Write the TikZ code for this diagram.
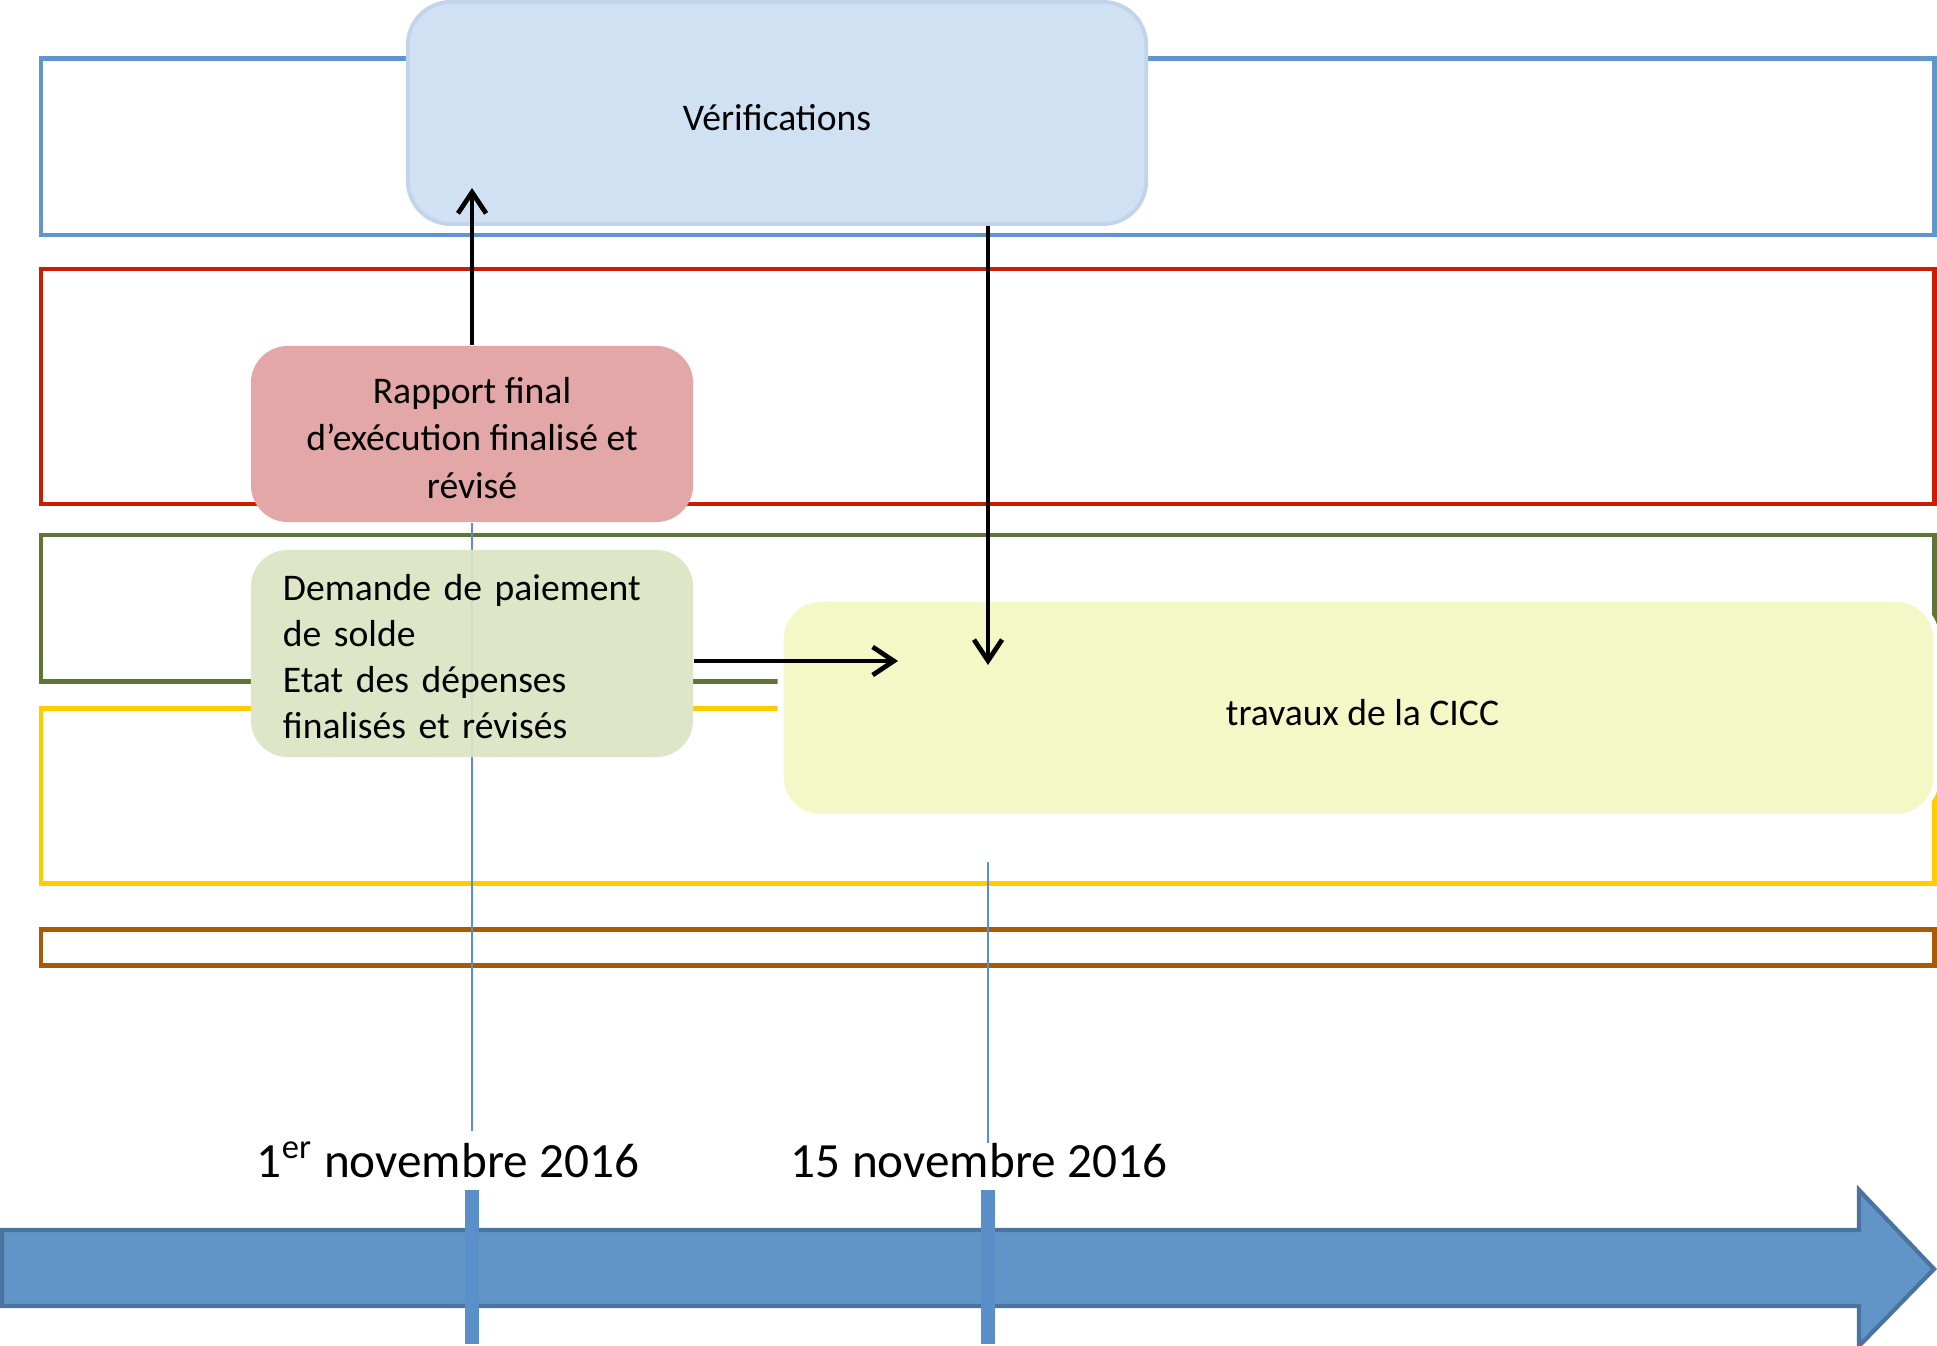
\documentclass[tikz,border=0pt]{standalone}
\usepackage{fontspec}
\setmainfont{Carlito}
\usetikzlibrary{arrows.meta,calc}
\definecolor{bandblue}{RGB}{96,150,202}
\definecolor{bandred}{RGB}{202,30,0}
\definecolor{bandgreen}{RGB}{95,117,53}
\definecolor{bandyellow}{RGB}{255,204,0}
\definecolor{bandbrown}{RGB}{168,90,5}
\definecolor{verfill}{RGB}{208,225,243}
\definecolor{verline}{RGB}{193,212,234}
\definecolor{rapfill}{RGB}{226,167,166}
\definecolor{demfill}{RGB}{221,231,200}
\definecolor{travfill}{RGB}{243,248,198}
\definecolor{tlfill}{RGB}{97,149,200}
\definecolor{tlline}{RGB}{74,115,160}
\definecolor{tickcol}{RGB}{91,143,202}
\tikzset{
  band/.style={line width=1.42pt},
  boxtext/.style={font=\fontsize{10.7}{13.6}\selectfont, text=black, inner sep=0pt},
  flowarrow/.style={line width=1.35pt, -{Straight Barb[length=6pt,width=8pt,line width=1.35pt]}},
  thinline/.style={draw=tickcol, line width=0.6pt},
  tickmark/.style={draw=tickcol, line width=4.2pt},
  datelabel/.style={font=\fontsize{14}{16}\selectfont, anchor=base, inner sep=0pt}
}
\begin{document}
\begin{tikzpicture}[x=0.01cm,y=-0.01cm]
\useasboundingbox (0,0) rectangle (1937,1346);

% bands
\draw[band, bandblue]   (41,59)  rectangle (1934,235);
\draw[band, bandred]    (41,269) rectangle (1934,504);
\draw[band, bandgreen]  (41,535) rectangle (1934,681);
\draw[band, bandyellow] (41,708) rectangle (1934,883);
\draw[band, bandbrown]  (41,929) rectangle (1934,965);

% coordinates for date lines
\coordinate (endA) at (472,1131);
\coordinate (startB) at (988,862);
\coordinate (endB) at (988,1143);

% boxes
\node[draw=verline, fill=verfill, line width=1.1pt, rounded corners=0.43cm,
      minimum width=7.38cm, minimum height=2.22cm] (verif) at (777,113) {};
\node[boxtext] (veriftxt) at ($(verif.center)+(0,5)$) {Vérifications};

\node[fill=rapfill, rounded corners=0.37cm,
      minimum width=4.42cm, minimum height=1.76cm] (rapport) at (472,434) {};
\node[boxtext, align=center] (rapporttxt) at ($(rapport.center)+(0,4)$)
      {Rapport final\\d’exécution finalisé et\\révisé};

\draw[thinline] (rapport.south) -- (endA);

\node[fill=demfill, rounded corners=0.37cm,
      minimum width=4.42cm, minimum height=2.07cm] (demande) at (472,653.5) {};
\draw[thinline, draw opacity=0.1] (rapport.south) -- (demande.south);
\node[boxtext, font=\fontsize{10.7}{13.1}\selectfont, align=left, text width=3.78cm] (demandetxt)
      at ($(demande.center)+(0,3)$)
      {Demande de paiement\\de solde\\Etat des dépenses\\finalisés et révisés};

\node[fill=travfill, draw=white, line width=1.7pt, rounded corners=0.4cm,
      minimum width=11.55cm, minimum height=2.18cm] (travaux) at (1358.5,708) {};
\node[boxtext] (travauxtxt) at ($(travaux.center)+(4,5)$) {travaux de la CICC};

\draw[thinline] (startB) -- (endB);

% arrows
\coordinate (upEnd) at (472,188);
\coordinate (downStart) at (988,224);
\coordinate (downEnd) at (988,665);
\coordinate (rightStart) at (693,661);
\coordinate (rightEnd) at (898,661);
\draw[flowarrow] (rapport.north) -- (upEnd);
\draw[flowarrow] (verif.south -| downStart) -- (downEnd);
\draw[flowarrow] (demande.east |- rightStart) -- (rightEnd);

% timeline
\draw[fill=tlfill, draw=tlline, line width=1.2pt]
  (2,1230) -- (1859,1230) -- (1859,1190) -- (1934,1269) -- (1859,1346) -- (1859,1306) -- (2,1306) -- cycle;
\draw[tickmark] (472,1190) -- (472,1344);
\draw[tickmark] (988,1190) -- (988,1344);

% date labels
\node[datelabel] (d1) at (448,1177) {1\textsuperscript{er} novembre 2016};
\node[datelabel] (d15) at (979,1177) {15 novembre 2016};
\end{tikzpicture}
\end{document}
